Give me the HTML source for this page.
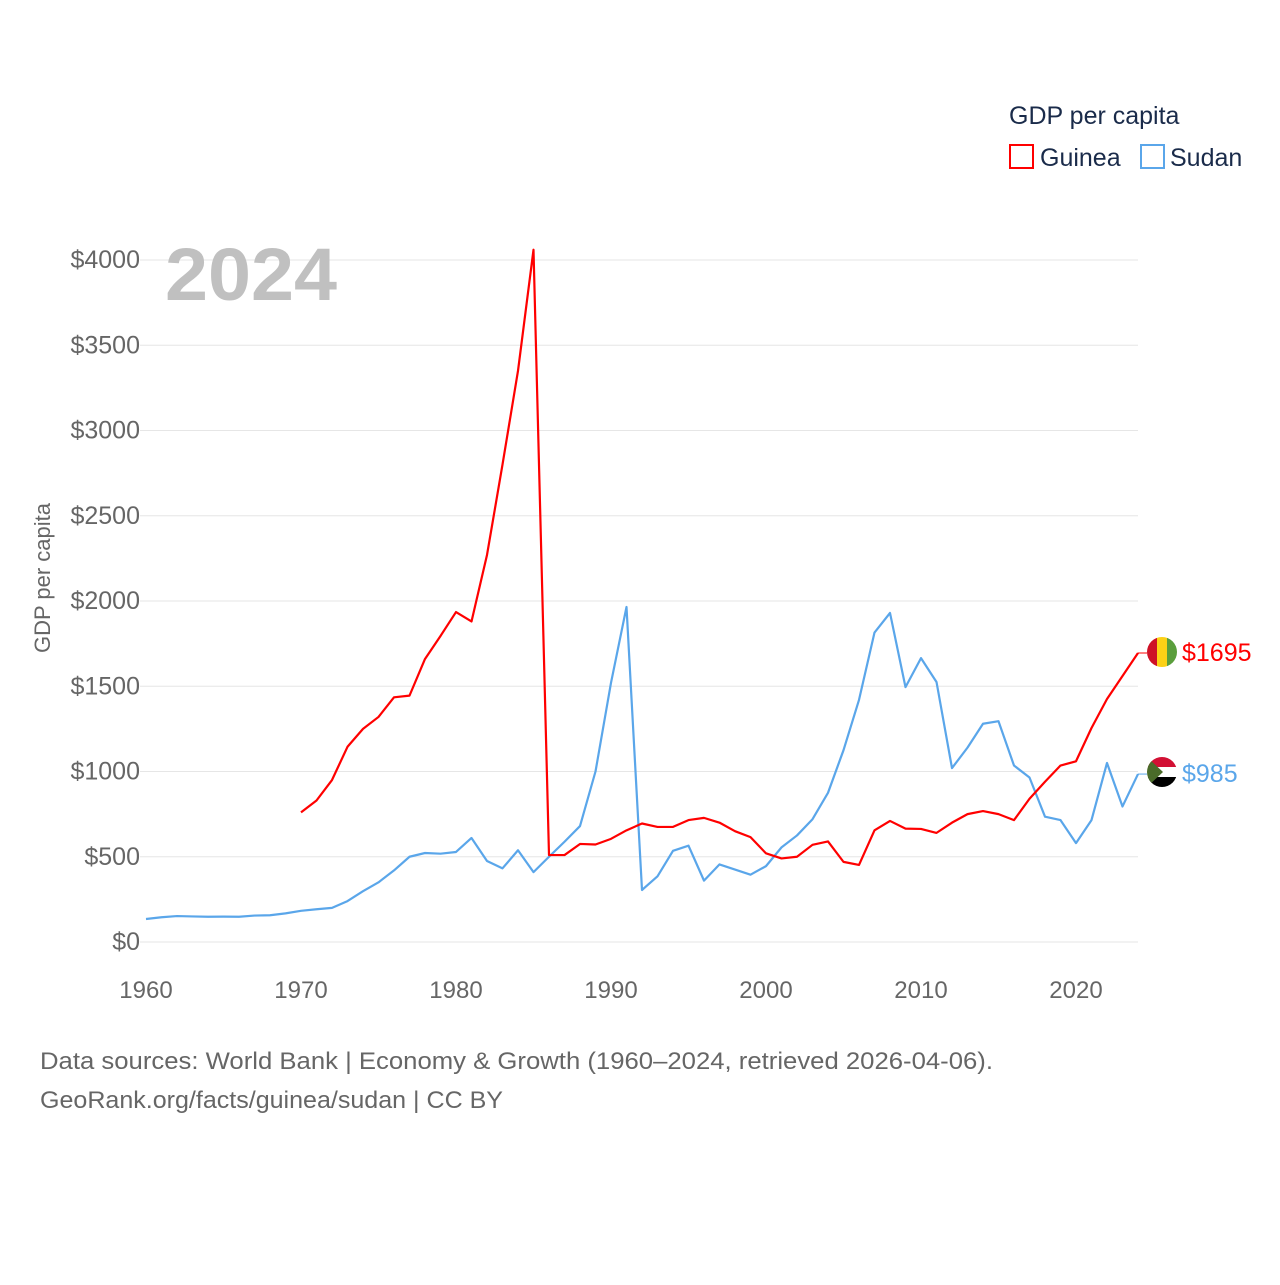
<!DOCTYPE html>
<html><head><meta charset="utf-8"><style>
body{margin:0;background:#fff;font-family:"Liberation Sans",sans-serif}
svg text{font-family:"Liberation Sans",sans-serif}
</style></head><body>
<svg width="1280" height="1280" viewBox="0 0 1280 1280">
<g id="grid"></g>
<g id="yt"></g>
<g id="xt"></g>
<text x="165" y="300" font-size="74" font-weight="bold" fill="#c0c0c0" textLength="172" lengthAdjust="spacingAndGlyphs">2024</text>
<text transform="translate(50,578) rotate(-90)" text-anchor="middle" font-size="22" fill="#666">GDP per capita</text>
<g id="lines"></g>
<text x="1009" y="124" font-size="25" fill="#1a2b4a">GDP per capita</text>
<g><rect x="1010" y="145" width="23" height="23" fill="none" stroke="#f00" stroke-width="2"/><text x="1040" y="166" font-size="25" fill="#1a2b4a">Guinea</text></g>
<g><rect x="1141" y="145" width="23" height="23" fill="none" stroke="#5aa6ea" stroke-width="2"/><text x="1170" y="166" font-size="25" fill="#1a2b4a">Sudan</text></g>
<defs><clipPath id="c1"><circle cx="1162" cy="652" r="15"/></clipPath><clipPath id="c2"><circle cx="1162" cy="772" r="15"/></clipPath></defs>
<g clip-path="url(#c1)"><rect x="1147" y="637" width="10" height="30" fill="#ce1126"/><rect x="1157" y="637" width="10" height="30" fill="#fcd116"/><rect x="1167" y="637" width="10" height="30" fill="#5a9e3c"/></g>
<g clip-path="url(#c2)"><rect x="1147" y="757" width="30" height="10" fill="#d21034"/><rect x="1147" y="767" width="30" height="10" fill="#fff"/><rect x="1147" y="777" width="30" height="10" fill="#000"/><polygon points="1147,757 1163,772 1147,787" fill="#4a6b2a"/></g>
<text id="gl" x="1182" y="660" font-size="25" fill="#f00">$1695</text>
<text id="sl" x="1182" y="780" font-size="25" fill="#5aa6ea">$985</text>
<text x="40" y="1069" font-size="24" fill="#666" textLength="953" lengthAdjust="spacingAndGlyphs">Data sources: World Bank | Economy &amp; Growth (1960–2024, retrieved 2026-04-06).</text>
<text x="40" y="1108" font-size="24" fill="#666" textLength="463" lengthAdjust="spacingAndGlyphs">GeoRank.org/facts/guinea/sudan | CC BY</text>
</svg>
<script>
const yTicks=[0,500,1000,1500,2000,2500,3000,3500,4000];
const xTicks=[1960,1970,1980,1990,2000,2010,2020];
const sudanStart=1960;
const sudanValues=[135,145,152,150,148,149,148,155,157,168,183,192,200,240,298,350,420,500,522,518,528,610,475,432,538,410,500,588,680,1000,1520,1965,305,385,535,565,360,455,425,395,445,555,625,720,875,1125,1420,1815,1930,1495,1665,1525,1020,1140,1280,1295,1035,965,735,715,580,715,1050,795,985];
const guineaStart=1970;
const guineaValues=[760,830,950,1145,1250,1320,1435,1445,1660,1795,1935,1880,2270,2800,3350,4060,510,510,575,572,605,655,695,675,675,715,728,700,650,615,520,490,500,570,590,470,452,655,710,665,663,640,700,750,768,750,715,840,940,1035,1060,1255,1425,1560,1695];
const X=y=>146+(y-1960)*15.5;
const Y=v=>942-v*0.1705;
const NS="http://www.w3.org/2000/svg";
function mk(t,a,p){const e=document.createElementNS(NS,t);for(const k in a)e.setAttribute(k,a[k]);p.appendChild(e);return e;}
const grid=document.getElementById('grid'),yt=document.getElementById('yt'),xt=document.getElementById('xt'),lines=document.getElementById('lines');
yTicks.forEach(v=>{
 const l=mk('line',{x1:140,x2:1138,y1:Y(v),y2:Y(v),stroke:'#e6e6e6','stroke-width':1},grid);
 
 
 const t=mk('text',{x:140,y:Y(v)+8,'text-anchor':'end','font-size':25,fill:'#666'},yt);
 t.textContent='$'+v;
 
 
});
xTicks.forEach(y=>{
 const t=mk('text',{x:X(y),y:998,'text-anchor':'middle','font-size':24,fill:'#666'},xt);
 t.textContent=y;
 
 
});
function line(vals,start,color,name){
 const pts=vals.map((v,i)=>X(start+i)+','+Y(v)).join(' ');
 const p=mk('polyline',{points:pts,fill:'none',stroke:color,'stroke-width':2.2,'stroke-linejoin':'round'},lines);
 
 
 const last=vals[vals.length-1];
 const c=mk('line',{x1:X(start+vals.length-1),x2:1147,y1:Y(last),y2:Y(last),stroke:color,'stroke-width':1},lines);
 
 
 return Y(last);
}
const sy=line(sudanValues,sudanStart,'#5aa6ea','sudan-line');
const gy=line(guineaValues,guineaStart,'#ff0000','guinea-line');
document.getElementById('gl').setAttribute('y',gy+8);
document.getElementById('gl').textContent='$'+guineaValues[guineaValues.length-1];
document.getElementById('sl').setAttribute('y',sy+8);
document.getElementById('sl').textContent='$'+sudanValues[sudanValues.length-1];
</script>
</body></html>
